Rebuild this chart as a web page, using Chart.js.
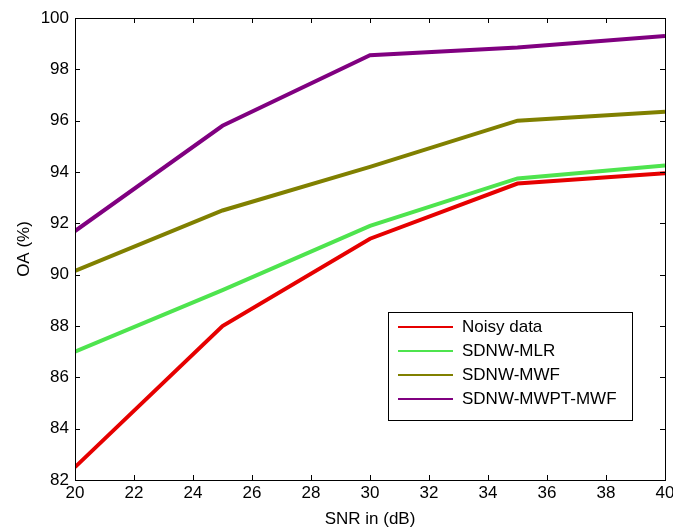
<!DOCTYPE html>
<html>
<head>
<meta charset="utf-8">
<script src="https://cdn.jsdelivr.net/npm/chart.js@4.4.0/dist/chart.umd.min.js"></script>
<style>
  html, body { margin: 0; padding: 0; background: #fff; }
  #wrap { width: 673px; height: 530px; }
</style>
</head>
<body>
<div id="wrap"><canvas id="c"></canvas></div>
<script>
// ===== DATA =====
const snr = [20, 25, 30, 35, 40];
const noisyData = [82.5, 88.0, 91.4, 93.55, 93.95];
const mlrData = [87.0, 89.4, 91.9, 93.75, 94.25];
const mwfData = [90.15, 92.5, 94.2, 96.0, 96.35];
const mwptData = [91.7, 95.8, 98.55, 98.85, 99.3];
const seriesNames = ['Noisy data', 'SDNW-MLR', 'SDNW-MWF', 'SDNW-MWPT-MWF'];
const xTicks = [20, 22, 24, 26, 28, 30, 32, 34, 36, 38, 40];
const yTicks = [82, 84, 86, 88, 90, 92, 94, 96, 98, 100];

const FONT = 'Liberation Sans, Arial, sans-serif';
const colors = ['#e60000', '#4ee44e', '#808000', '#800080'];

function toPts(ys) { return snr.map((x, i) => ({ x, y: ys[i] })); }

// box, inward ticks and the inset legend
const framePlugin = {
  id: 'frame',
  afterDraw(chart) {
    const { ctx, chartArea: a, scales } = chart;
    ctx.save();
    ctx.strokeStyle = '#000';
    ctx.lineWidth = 1;
    ctx.strokeRect(a.left + 0.5, a.top + 0.5, a.right - a.left, a.bottom - a.top);
    ctx.beginPath();
    const tl = 5;
    xTicks.forEach(v => {
      const px = Math.round(scales.x.getPixelForValue(v)) + 0.5;
      ctx.moveTo(px, a.bottom); ctx.lineTo(px, a.bottom - tl);
      ctx.moveTo(px, a.top); ctx.lineTo(px, a.top + tl);
    });
    yTicks.forEach(v => {
      const py = Math.round(scales.y.getPixelForValue(v)) + 0.5;
      ctx.moveTo(a.left, py); ctx.lineTo(a.left + tl, py);
      ctx.moveTo(a.right, py); ctx.lineTo(a.right - tl, py);
    });
    ctx.stroke();

    // legend
    const lx = 388, ly = 312, lw = 244, lh = 108;
    ctx.fillStyle = '#fff';
    ctx.fillRect(lx, ly, lw, lh);
    ctx.strokeRect(lx + 0.5, ly + 0.5, lw, lh);
    ctx.font = '17px ' + FONT;
    ctx.textBaseline = 'middle';
    chart.data.datasets.forEach((ds, i) => {
      const y = ly + 15 + i * 24;
      ctx.strokeStyle = ds.borderColor;
      ctx.lineWidth = 2;
      ctx.beginPath(); ctx.moveTo(398, y); ctx.lineTo(453, y); ctx.stroke();
      ctx.fillStyle = '#000';
      ctx.fillText(ds.label, 462, y);
    });
    ctx.restore();
  }
};

const allData = [noisyData, mlrData, mwfData, mwptData];

new Chart(document.getElementById('c'), {
  type: 'line',
  data: {
    datasets: allData.map((d, i) => ({
      label: seriesNames[i],
      data: toPts(d),
      borderColor: colors[i],
      backgroundColor: colors[i],
      borderWidth: 4,
      pointRadius: 0,
      tension: 0,
      fill: false
    }))
  },
  options: {
    responsive: true,
    maintainAspectRatio: false,
    animation: false,
    layout: { padding: { left: 0, top: 18, right: 8, bottom: 0 } },
    plugins: { legend: { display: false }, tooltip: { enabled: false } },
    scales: {
      x: {
        type: 'linear', min: 20, max: 40,
        afterBuildTicks: s => { s.ticks = xTicks.map(v => ({ value: v })); },
        afterFit: s => { s.height = 50; s.paddingLeft = 0; s.paddingRight = 0; },
        grid: { display: false, drawTicks: false },
        border: { display: false },
        ticks: { color: '#000', font: { family: FONT, size: 17 }, padding: 3, maxRotation: 0 },
        title: { display: true, text: 'SNR in (dB)', color: '#000', font: { family: FONT, size: 17 }, padding: { top: 0, bottom: 0 } }
      },
      y: {
        type: 'linear', min: 82, max: 100,
        afterBuildTicks: s => { s.ticks = yTicks.map(v => ({ value: v })); },
        afterFit: s => { s.width = 75; s.paddingTop = 0; s.paddingBottom = 0; },
        grid: { display: false, drawTicks: false },
        border: { display: false },
        ticks: { color: '#000', font: { family: FONT, size: 17 }, padding: 6 },
        title: { display: true, text: 'OA (%)', color: '#000', font: { family: FONT, size: 17 }, padding: { top: 14, bottom: 0 } }
      }
    }
  },
  plugins: [framePlugin]
});
</script>
</body>
</html>
